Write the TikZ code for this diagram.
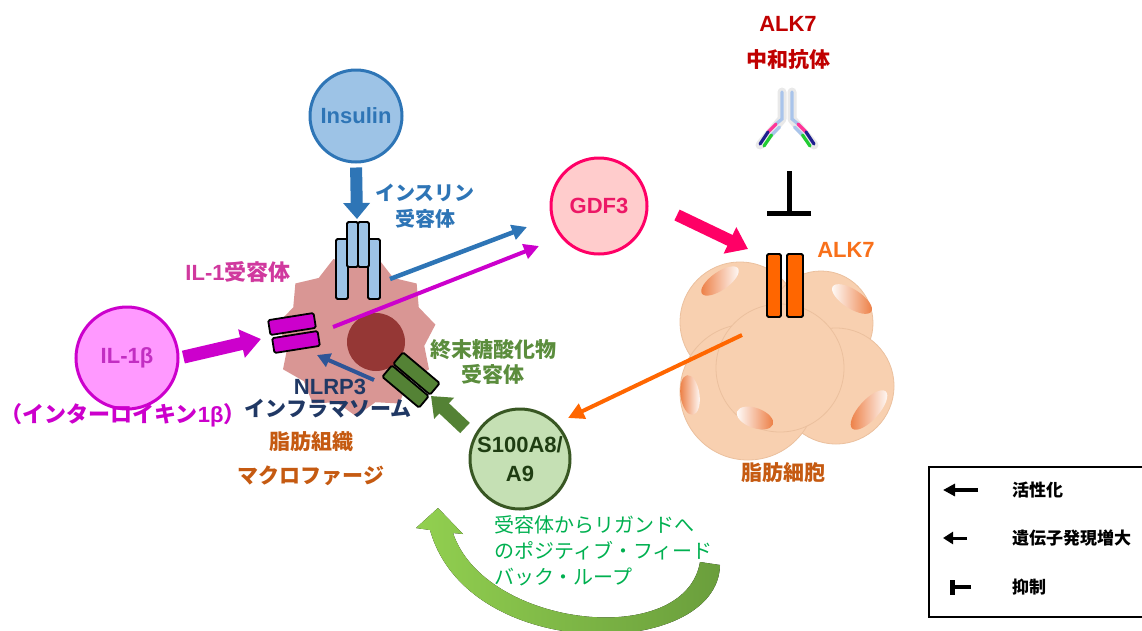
\documentclass[tikz,border=0pt]{standalone}
\usepackage{fontspec}
\setmainfont{Liberation Sans}
\newfontfamily\jp{Noto Sans CJK JP}
\usetikzlibrary{arrows.meta,shapes.geometric}

\definecolor{insblue}{HTML}{2E75B6}
\definecolor{insfill}{HTML}{9DC3E6}
\definecolor{magen}{HTML}{CC00CC}
\definecolor{magfill}{HTML}{FF99FF}
\definecolor{magtext}{HTML}{C22EC2}
\definecolor{ilrtext}{HTML}{D0399E}
\definecolor{hotpink}{HTML}{FF0066}
\definecolor{pinkfill}{HTML}{FFCCCC}
\definecolor{gdftext}{HTML}{EC1866}
\definecolor{darkred}{HTML}{C00000}
\definecolor{alkorange}{HTML}{FF6600}
\definecolor{alktext}{HTML}{F8701A}
\definecolor{fatfill}{HTML}{F8D0B0}
\definecolor{fatedge}{HTML}{EBC09E}
\definecolor{brownlbl}{HTML}{C55A11}
\definecolor{inflnavy}{HTML}{203864}
\definecolor{nlrpblue}{HTML}{2F5597}
\definecolor{macro}{HTML}{D99694}
\definecolor{nucleus}{HTML}{953735}
\definecolor{agegreen}{HTML}{548235}
\definecolor{agetext}{HTML}{5B8D3D}
\definecolor{sfill}{HTML}{C5E0B4}
\definecolor{sedge}{HTML}{385723}
\definecolor{stext}{HTML}{1F3D12}
\definecolor{loopgreen}{HTML}{00B050}
\definecolor{loopL}{HTML}{92D050}
\definecolor{loopR}{HTML}{6A9E3C}
\definecolor{abblue}{HTML}{A9C4EB}
\definecolor{abpink}{HTML}{FF3399}
\definecolor{abnavy}{HTML}{1F1F8F}
\definecolor{abgreen}{HTML}{22CC33}
\definecolor{nucorange}{HTML}{EC7A3E}

\begin{document}
\begin{tikzpicture}[x=1pt,y=-1pt,
  ball/.style={circle, line width=3pt, inner sep=0pt, align=center,
    font=\bfseries\fontsize{22}{29}\selectfont},
  lat/.style={inner sep=0pt, align=center, font=\bfseries\fontsize{22}{26}\selectfont},
  jpn/.style={inner sep=0pt, align=center, font=\jp\bfseries\fontsize{20}{26}\selectfont},
  legtext/.style={inner sep=0pt, anchor=west, font=\jp\bfseries\fontsize{17}{20}\selectfont},
  fatarrow/.style={line width=13pt, -{Triangle[length=20pt,width=28pt]}},
  thinarrow/.style={line width=4pt, -{Triangle[length=15pt,width=15pt]}},
  rec/.style={draw=black, line width=1.8pt, rounded corners=1.5pt},
  recnode/.style={draw=black, line width=1.8pt, rounded corners=1.5pt, inner sep=0pt,
    minimum width=46pt, minimum height=15pt},
  fatcell/.style={circle, fill=fatfill, draw=fatedge, line width=0.8pt, inner sep=0pt},
  nuc/.style={ellipse, inner sep=0pt, left color=nucorange, right color=white},
  abline/.style={line width=3.2pt, line cap=round},
  abglow/.style={line width=9pt, line cap=round, line join=round, black!25, opacity=0.35}
]
\useasboundingbox (0,0) rectangle (1142,630);
\clip (0,0) rectangle (1142,630);

% ---------- positive feedback loop band ----------
\fill[left color=loopL, right color=loopR]
  (720,565) .. controls (718,660) and (468,665) .. (430,530)
  -- (416,528) -- (438,508) -- (463,534) -- (453,533)
  .. controls (485,628) and (685,650) .. (700,562) -- cycle;

% ---------- adipocytes ----------
\node[fatcell, minimum size=120pt] (fatA) at (740,322) {};
\node[fatcell, minimum size=104pt] (fatB) at (821,323) {};
\node[fatcell, minimum size=116pt] (fatD) at (836,386) {};
\node[fatcell, minimum size=136pt] (fatC) at (748,392) {};
\node[fatcell, minimum size=128pt] (fatE) at (780,368) {};
\node[nuc, minimum width=44pt, minimum height=18pt, rotate=35]  (nuA) at (720,281) {};
\node[nuc, minimum width=46pt, minimum height=19pt, rotate=-33, left color=white, right color=nucorange] (nuB) at (852,299) {};
\node[nuc, minimum width=40pt, minimum height=19pt, rotate=-82] (nuC) at (690,395) {};
\node[nuc, minimum width=38pt, minimum height=20pt, rotate=-20, left color=white, right color=nucorange] (nuD) at (755,418) {};
\node[nuc, minimum width=50pt, minimum height=20pt, rotate=48] (nuE) at (869,410) {};

% ALK7 receptor
\node[rec, fill=alkorange, inner sep=0pt, minimum width=14pt, minimum height=63pt] (alkA) at (774,285.5) {};
\node[rec, fill=alkorange, inner sep=0pt, minimum width=16pt, minimum height=63pt] (alkB) at (795,285.5) {};

% ---------- ALK7 neutralising antibody ----------
\node[lat, text=darkred] (abname) at (788,24) {ALK7};
\node[jpn, text=darkred, font=\jp\bfseries\fontsize{21}{26}\selectfont] (abword) at (788,60) {中和抗体};
\draw[abglow] (782,92) -- (782,119) -- (760,145);
\draw[abglow] (792,92) -- (792,119) -- (814,145);
\draw[abline, abblue] (782,92) -- (782,119) -- (776,124);
\draw[abline, abblue] (792,92) -- (792,119) -- (798,124);
\draw[abline, abpink] (776,124) -- (768,132);
\draw[abline, abpink] (798,124) -- (806,132);
\draw[abline, abnavy] (768,132) -- (760,144);
\draw[abline, abnavy] (806,132) -- (814,144);
\draw[abline, abblue] (779.5,127) -- (771.5,135);
\draw[abline, abblue] (794.5,127) -- (802.5,135);
\draw[abline, abgreen] (771.5,135) -- (764,146);
\draw[abline, abgreen] (802.5,135) -- (810,146);
\coordinate (abfoot) at (789,171);
\coordinate (alkstop) at (789,216);
\draw[line width=5pt, -{Bar[width=44pt]}] (abfoot) -- (alkstop);

% ---------- GDF3 ----------
\node[ball, fill=pinkfill, draw=hotpink, text=gdftext, minimum size=96pt] (gdf3) at (599,206) {GDF3};
\coordinate (gdfTail) at (677,215);
\coordinate (alkTip) at (748,249);
\draw[line width=12pt, -{Triangle[length=20pt,width=28pt]}, hotpink] (gdfTail) -- (alkTip);

% ---------- macrophage ----------
\node[star, star points=11, star point ratio=0.86, minimum size=138pt, inner sep=0pt, fill=macro] (macro) at (356,336) {};
\node[circle, fill=nucleus, minimum size=58pt, inner sep=0pt] (nlrp) at (376,342) {};
% insulin receptor
\draw[rec, fill=insfill] (336,239) rectangle (348,299);
\draw[rec, fill=insfill] (368,239) rectangle (380,299);
\draw[rec, fill=insfill] (347,222) rectangle (358,267);
\draw[rec, fill=insfill] (358,222) rectangle (369,267);
% IL-1 receptor
\node[recnode, fill=magen, rotate=9] (ilra) at (292,324) {};
\node[recnode, fill=magen, rotate=9] (ilrb) at (296,342) {};
% AGE receptor
\node[recnode, fill=agegreen, minimum width=48pt, rotate=-40] (agea) at (405.5,386.5) {};
\node[recnode, fill=agegreen, minimum width=48pt, rotate=-40] (ageb) at (416.5,373.5) {};

% ---------- Insulin ----------
\node[ball, fill=insfill, draw=insblue, text=insblue, minimum size=92pt] (insulin) at (356,116) {Insulin};
\coordinate (insRtop) at (357,219);
\draw[line width=12pt, -{Triangle[length=16pt,width=26pt]}, insblue, shorten <=4pt] (insulin.south) -- (insRtop);

% ---------- IL-1beta ----------
\node[ball, fill=magfill, draw=magen, text=magtext, minimum size=102pt] (il1b) at (127,358) {IL-1β};
\coordinate (ilrTip) at (261,339);
\draw[fatarrow, magen, shorten <=4pt] (il1b.east) -- (ilrTip);

% ---------- S100A8/A9 ----------
\node[ball, fill=sfill, draw=sedge, text=stext, minimum size=100pt] (s100) at (520,459) {S100A8/\\A9};
\coordinate (s100Tail) at (465,428);
\coordinate (ageTip) at (431,396);
\draw[line width=14pt, -{Triangle[length=18pt,width=28pt]}, agegreen] (s100Tail) -- (ageTip);

% ---------- signalling arrows ----------
\coordinate (insRout) at (390,279);
\coordinate (gdfBlue) at (527,227);
\draw[thinarrow, insblue, line width=4.5pt] (insRout) -- (gdfBlue);
\coordinate (ilrOut) at (333,327);
\coordinate (gdfMag) at (539,246);
\draw[thinarrow, magen] (ilrOut) -- (gdfMag);
\coordinate (nlrpOut) at (374,380);
\coordinate (ilrIn) at (317,355);
\draw[thinarrow, nlrpblue, -{Triangle[length=13pt,width=14pt]}] (nlrpOut) -- (ilrIn);
\coordinate (fatOut) at (742,335);
\coordinate (s100In) at (568,418);
\draw[thinarrow, alkorange, -{Triangle[length=16pt,width=16pt]}] (fatOut) -- (s100In);

% ---------- labels ----------
\node[jpn, text=insblue] (insRlbl) at (425,206) {インスリン\\受容体};
\node[lat, text=ilrtext] (ilrlbl) at (238,272) {IL-1{\jp\bfseries 受容体}};
\node[lat, text=magen] (il1full) at (123,415) {{\jp\bfseries （インターロイキン}1β{\jp\bfseries ）}};
\node[lat, text=inflnavy] (nlrpname) at (330,387) {NLRP3};
\node[jpn, text=inflnavy, font=\jp\bfseries\fontsize{21}{26}\selectfont] (nlrpword) at (328,409) {インフラマソーム};
\node[jpn, text=brownlbl, font=\jp\bfseries\fontsize{21}{26}\selectfont] (tissue) at (311,442) {脂肪組織};
\node[jpn, text=brownlbl, font=\jp\bfseries\fontsize{21}{26}\selectfont] (macword) at (311,476) {マクロファージ};
\node[jpn, text=agetext, font=\jp\bfseries\fontsize{21}{25}\selectfont] (agelbl) at (493,362) {終末糖酸化物\\受容体};
\node[lat, text=alktext] (alklbl) at (846,250) {ALK7};
\node[jpn, text=brownlbl, font=\jp\bfseries\fontsize{21}{26}\selectfont] (fatlbl) at (783,473) {脂肪細胞};
\node[jpn, text=loopgreen, anchor=west, align=left, font=\jp\fontsize{20}{26}\selectfont] (fbtext) at (494,551)
  {受容体からリガンドへ\\のポジティブ・フィード\\バック・ループ};

% ---------- legend ----------
\draw[line width=2pt] (929,467) rectangle (1170,617);
\coordinate (legAs) at (978,490);
\coordinate (legAe) at (943,490);
\draw[line width=4.5pt, -{Triangle[length=12pt,width=12pt]}] (legAs) -- (legAe);
\node[legtext] (legA) at (1012,490) {活性化};
\coordinate (legBs) at (967,538);
\coordinate (legBe) at (943,538);
\draw[line width=3pt, -{Triangle[length=10pt,width=12pt]}] (legBs) -- (legBe);
\node[legtext] (legB) at (1012,538) {遺伝子発現増大};
\coordinate (legCs) at (971,587);
\coordinate (legCe) at (950,587);
\draw[line width=4.5pt, -{Bar[width=15pt]}] (legCs) -- (legCe);
\node[legtext] (legC) at (1012,587) {抑制};
\end{tikzpicture}
\end{document}
